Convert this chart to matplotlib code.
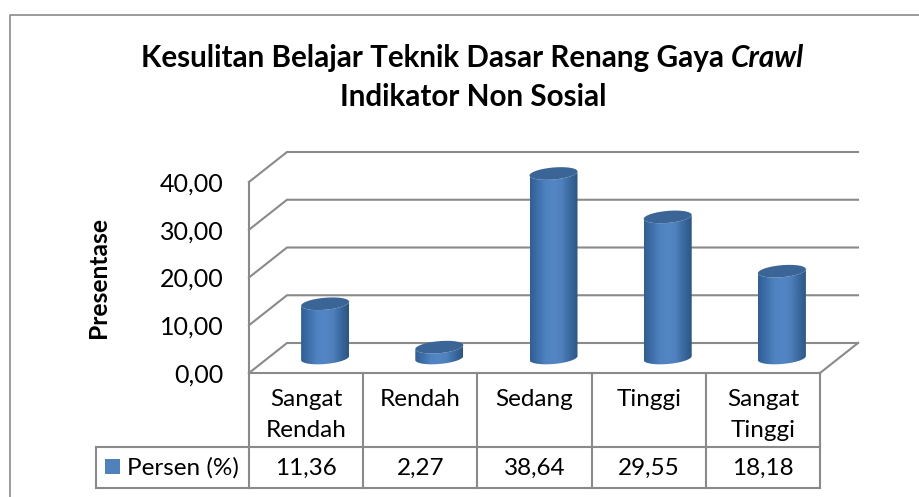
import numpy as np
import matplotlib
matplotlib.use('Agg')
import matplotlib.pyplot as plt
from matplotlib.colors import LinearSegmentedColormap
from matplotlib.patches import PathPatch, Polygon
from matplotlib.path import Path
from matplotlib.transforms import blended_transform_factory

# Chart values
categories = ['Sangat\nRendah', 'Rendah', 'Sedang', 'Tinggi', 'Sangat\nTinggi']
values = [11.36, 2.27, 38.64, 29.55, 18.18]
value_labels = ['11,36', '2,27', '38,64', '29,55', '18,18']
y_ticks = [0, 10, 20, 30, 40]
y_tick_labels = ['0,00', '10,00', '20,00', '30,00', '40,00']
series_name = 'Persen (%)'

plt.rcParams['font.family'] = ['Lato', 'DejaVu Sans']
W, H = 919, 497
grey = '#8a8a8a'
lw = 1.5
title_size = 21.3
table_size = 17.5

fig = plt.figure(figsize=(W / 100, H / 100), dpi=100)

# Overlay in pixels for the frame, titles and the table rows
over = fig.add_axes([0, 0, 1, 1])
over.set_xlim(0, W)
over.set_ylim(H, 0)
over.axis('off')

over.plot([10, 10, 919], [497, 15, 15], color=grey, lw=1.2, clip_on=False)

t1 = over.text(141, 58, 'Kesulitan Belajar Teknik Dasar Renang Gaya ', fontsize=title_size,
               fontweight='bold', va='center', ha='left', color='black')
over.annotate('Crawl', xy=(1, 0), xycoords=t1, va='bottom', ha='left', fontsize=title_size,
              fontweight='bold', fontstyle='italic', color='black')
over.text(473, 97, 'Indikator Non Sosial', fontsize=title_size, fontweight='bold',
          va='center', ha='center', color='black')
over.text(98, 277, 'Presentase', fontsize=17.7, fontweight='bold', rotation=90,
          va='center', ha='center', color='black')

# Plot area: the front plane of the 3D box
ax = fig.add_axes([249 / W, 1 - 373 / H, 571 / W, 191 / H])
ax.patch.set_alpha(0)
xlim = (-0.5, 4.5)
ylim = (0, 40)
depth_x = 38 / 114.2   # box depth in category units
depth_y = 30 / 4.775   # box depth in value units

for v in y_ticks:
    ax.plot([xlim[0], xlim[0] + depth_x, xlim[1] + depth_x], [v, v + depth_y, v + depth_y],
            color=grey, lw=lw, clip_on=False, zorder=1, solid_joinstyle='miter')
ax.plot([xlim[0], xlim[0]], ylim, color=grey, lw=lw, clip_on=False, zorder=1)
ax.plot([xlim[1], xlim[1] + depth_x], [0, depth_y], color=grey, lw=lw, clip_on=False, zorder=1)

# Cylinders, shaded with a gradient clipped to the body outline
shade = LinearSegmentedColormap.from_list(
    'cyl', ['#2f5f95', '#3f70aa', '#4f82c0', '#5486c6', '#4f80bc', '#3b6aa0', '#2c5685'])
half_w = 24 / 114.2
half_h = 6.0 / 4.775
tilt = 2.0 / 4.775
t_low = np.linspace(np.pi, 2 * np.pi, 60)
t_all = np.linspace(0, 2 * np.pi, 120)

for i, v in enumerate(values):
    cx = i + depth_x / 2
    base = depth_y / 2
    top = v + depth_y / 2
    ex = cx + half_w * np.cos(t_low)
    ey = half_h * np.sin(t_low) + tilt * np.cos(t_low)
    body = np.concatenate([np.column_stack([ex, base + ey]),
                           np.column_stack([ex[::-1], top + ey[::-1]])])
    clip = PathPatch(Path(np.vstack([body, body[0]])), transform=ax.transData,
                     fc='none', ec='none')
    ax.add_patch(clip)
    clip.set_clip_on(False)
    im = ax.imshow(np.linspace(0, 1, 64).reshape(1, -1), cmap=shade, aspect='auto',
                   extent=(cx - half_w, cx + half_w, base - 3, top + 3), zorder=3,
                   interpolation='bilinear')
    im.set_clip_box(fig.bbox)
    im.set_clip_path(clip)
    cap_x = cx + half_w * np.cos(t_all)
    cap_y = top + half_h * np.sin(t_all) + tilt * np.cos(t_all)
    ax.add_patch(Polygon(np.column_stack([cap_x, cap_y]), closed=True, fc='#3b6596',
                         ec='none', zorder=4, clip_on=False))

ax.set_xlim(*xlim)
ax.set_ylim(*ylim)
ax.set_xticks([])
ax.set_yticks(y_ticks)
ax.set_yticklabels(y_tick_labels, fontsize=18)
ax.tick_params(axis='y', length=0, pad=18.5, colors='black')
for s in ax.spines.values():
    s.set_visible(False)

# Data table under the plot: x from the categories, y in pixels
tr = blended_transform_factory(ax.transData, over.transData)
row_top, row_mid, row_bot = 373, 447, 488
legend_left = 96
for k in range(len(categories) + 1):
    over.plot([k - 0.5, k - 0.5], [row_top, row_bot], color=grey, lw=lw, transform=tr, clip_on=False)
over.plot([-0.5, 4.5], [row_top, row_top], color=grey, lw=lw, transform=tr, clip_on=False)
for y in (row_mid, row_bot):
    over.plot([legend_left, 249], [y, y], color=grey, lw=lw, clip_on=False)
    over.plot([-0.5, 4.5], [y, y], color=grey, lw=lw, transform=tr, clip_on=False)
over.plot([legend_left, legend_left], [row_mid, row_bot], color=grey, lw=lw, clip_on=False)

for i, (c, lab) in enumerate(zip(categories, value_labels)):
    cat_y = 415 if '\n' in c else 400
    over.text(i, cat_y, c, transform=tr, fontsize=table_size, ha='center', va='center',
              linespacing=1.55, color='black')
    over.text(i, 468, lab, transform=tr, fontsize=table_size, ha='center', va='center', color='black')

over.fill([105, 120, 120, 105], [459, 459, 474, 474], color='#4f81bd', lw=0)
over.text(127, 468, series_name, fontsize=table_size, ha='left', va='center', color='black')

fig.savefig('out.png', dpi=100)
